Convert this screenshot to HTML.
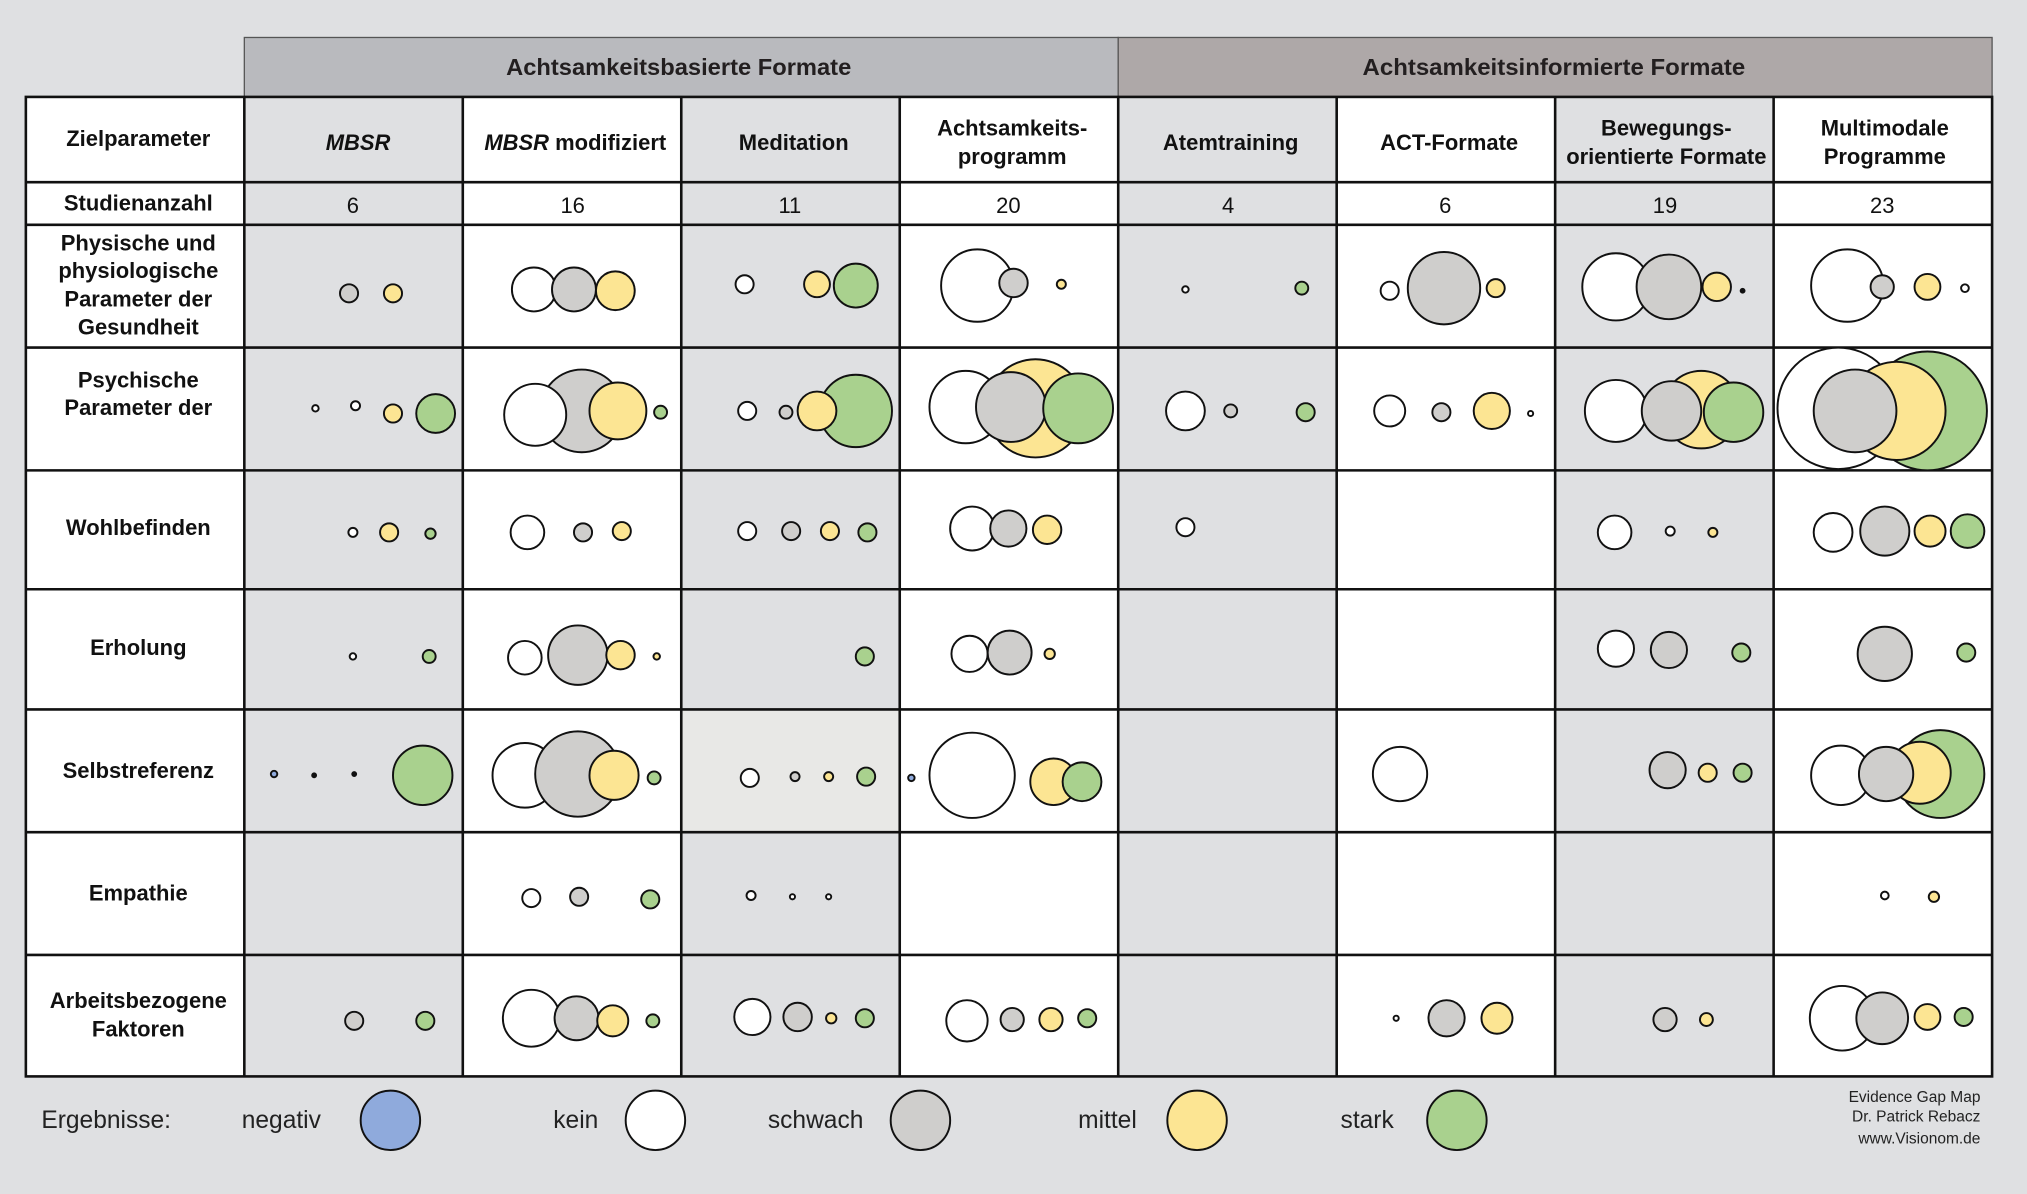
<!DOCTYPE html>
<html><head><meta charset="utf-8"><style>html,body{margin:0;padding:0;background:#dfe0e2;}svg{display:block}</style></head>
<body>
<svg width="2027" height="1194" viewBox="0 0 1568 924" preserveAspectRatio="none" xmlns="http://www.w3.org/2000/svg" font-family="'Liberation Sans Narrow','Liberation Sans',sans-serif">
<rect width="1568" height="924" fill="#dfe0e2"/>
<rect x="189" y="29" width="676" height="46" fill="#b9babe" stroke="#555" stroke-width="1"/>
<rect x="865" y="29" width="676" height="46" fill="#aea8a8" stroke="#555" stroke-width="1"/>
<g font-weight="bold" font-size="18" fill="#231f20" text-anchor="middle">
<text x="525" y="58" textLength="267" lengthAdjust="spacingAndGlyphs">Achtsamkeitsbasierte Formate</text>
<text x="1202" y="58" textLength="296" lengthAdjust="spacingAndGlyphs">Achtsamkeitsinformierte Formate</text>
</g>
<rect x="20" y="75" width="1521" height="758" fill="#fff"/>
<g fill="#dfe0e2">
<rect x="189" y="75" width="169" height="758"/>
<rect x="527" y="75" width="169" height="758"/>
<rect x="865" y="75" width="169" height="758"/>
<rect x="1203" y="75" width="169" height="758"/>
</g>
<rect x="527" y="549" width="169" height="95" fill="#e8e8e6"/>
<g stroke="#111" stroke-width="2" fill="none">
<rect x="20" y="75" width="1521" height="758"/>
<path d="M20 141H1541M20 174H1541M20 269H1541M20 364H1541M20 456H1541M20 549H1541M20 644H1541M20 739H1541"/>
<path d="M189 75V833M358 75V833M527 75V833M696 75V833M865 75V833M1034 75V833M1203 75V833M1372 75V833"/>
</g>
<g font-weight="bold" font-size="17" fill="#111" text-anchor="middle">
<text x="107" y="113">Zielparameter</text>
<text x="107" y="163">Studienanzahl</text>
<text x="107" y="194">Physische und</text>
<text x="107" y="215">physiologische</text>
<text x="107" y="237">Parameter der</text>
<text x="107" y="259">Gesundheit</text>
<text x="107" y="300">Psychische</text>
<text x="107" y="321">Parameter der</text>
<text x="107" y="414">Wohlbefinden</text>
<text x="107" y="507">Erholung</text>
<text x="107" y="602">Selbstreferenz</text>
<text x="107" y="697">Empathie</text>
<text x="107" y="780">Arbeitsbezogene</text>
<text x="107" y="802">Faktoren</text>
<text x="277" y="116" font-style="italic">MBSR</text>
<text x="445" y="116"><tspan font-style="italic">MBSR</tspan> modifiziert</text>
<text x="614" y="116">Meditation</text>
<text x="783" y="105">Achtsamkeits-</text>
<text x="783" y="127">programm</text>
<text x="952" y="116">Atemtraining</text>
<text x="1121" y="116">ACT-Formate</text>
<text x="1289" y="105">Bewegungs-</text>
<text x="1289" y="127">orientierte Formate</text>
<text x="1458" y="105">Multimodale</text>
<text x="1458" y="127">Programme</text>
</g>
<g font-size="17" fill="#111" text-anchor="middle">
<text x="273" y="165">6</text><text x="443" y="165">16</text><text x="611" y="165">11</text><text x="780" y="165">20</text>
<text x="950" y="165">4</text><text x="1118" y="165">6</text><text x="1288" y="165">19</text><text x="1456" y="165">23</text>
</g>
<g stroke="#111" stroke-width="1.5">
<circle cx="270" cy="227" r="7" fill="#cfcecc"/><circle cx="304" cy="227" r="7" fill="#fce593"/>
<circle cx="413" cy="224" r="17" fill="#fff"/><circle cx="444" cy="224" r="17" fill="#cfcecc"/><circle cx="476" cy="225" r="15" fill="#fce593"/>
<circle cx="576" cy="220" r="7" fill="#fff"/><circle cx="632" cy="220" r="10" fill="#fce593"/><circle cx="662" cy="221" r="17" fill="#a9d18e"/>
<circle cx="756" cy="221" r="28" fill="#fff"/><circle cx="784" cy="219" r="11" fill="#cfcecc"/><circle cx="821" cy="220" r="3.5" fill="#fce593"/>
<circle cx="917" cy="224" r="2.5" fill="#fff"/><circle cx="1007" cy="223" r="5" fill="#a9d18e"/>
<circle cx="1075" cy="225" r="7" fill="#fff"/><circle cx="1117" cy="223" r="28" fill="#cfcecc"/><circle cx="1157" cy="223" r="7" fill="#fce593"/>
<circle cx="1250" cy="222" r="26" fill="#fff"/><circle cx="1291" cy="222" r="25" fill="#cfcecc"/><circle cx="1328" cy="222" r="11" fill="#fce593"/><circle cx="1348" cy="225" r="1.5" fill="#111"/>
<circle cx="1429" cy="221" r="28" fill="#fff"/><circle cx="1456" cy="222" r="9" fill="#cfcecc"/><circle cx="1491" cy="222" r="10" fill="#fce593"/><circle cx="1520" cy="223" r="3" fill="#fff"/>
<circle cx="244" cy="316" r="2.5" fill="#fff"/><circle cx="275" cy="314" r="3.5" fill="#fff"/><circle cx="304" cy="320" r="7" fill="#fce593"/><circle cx="337" cy="320" r="15" fill="#a9d18e"/>
<circle cx="450" cy="318" r="32" fill="#cfcecc"/><circle cx="414" cy="321" r="24" fill="#fff"/><circle cx="478" cy="318" r="22" fill="#fce593"/><circle cx="511" cy="319" r="5" fill="#a9d18e"/>
<circle cx="578" cy="318" r="7" fill="#fff"/><circle cx="608" cy="319" r="5" fill="#cfcecc"/><circle cx="662" cy="318" r="28" fill="#a9d18e"/><circle cx="632" cy="318" r="15" fill="#fce593"/>
<circle cx="801" cy="316" r="38" fill="#fce593"/><circle cx="747" cy="315" r="28" fill="#fff"/><circle cx="782" cy="315" r="27" fill="#cfcecc"/><circle cx="834" cy="316" r="27" fill="#a9d18e"/>
<circle cx="917" cy="318" r="15" fill="#fff"/><circle cx="952" cy="318" r="5" fill="#cfcecc"/><circle cx="1010" cy="319" r="7" fill="#a9d18e"/>
<circle cx="1075" cy="318" r="12" fill="#fff"/><circle cx="1115" cy="319" r="7" fill="#cfcecc"/><circle cx="1154" cy="318" r="14" fill="#fce593"/><circle cx="1184" cy="320" r="2" fill="#fff"/>
<circle cx="1316" cy="317" r="30" fill="#fce593"/><circle cx="1250" cy="318" r="24" fill="#fff"/><circle cx="1293" cy="318" r="23" fill="#cfcecc"/><circle cx="1341" cy="319" r="23" fill="#a9d18e"/>
<circle cx="1491" cy="318" r="46" fill="#a9d18e"/><circle cx="1422" cy="316" r="47" fill="#fff"/><circle cx="1467" cy="318" r="38" fill="#fce593"/><circle cx="1435" cy="318" r="32" fill="#cfcecc"/>
<circle cx="273" cy="412" r="3.5" fill="#fff"/><circle cx="301" cy="412" r="7" fill="#fce593"/><circle cx="333" cy="413" r="4" fill="#a9d18e"/>
<circle cx="408" cy="412" r="13" fill="#fff"/><circle cx="451" cy="412" r="7" fill="#cfcecc"/><circle cx="481" cy="411" r="7" fill="#fce593"/>
<circle cx="578" cy="411" r="7" fill="#fff"/><circle cx="612" cy="411" r="7" fill="#cfcecc"/><circle cx="642" cy="411" r="7" fill="#fce593"/><circle cx="671" cy="412" r="7" fill="#a9d18e"/>
<circle cx="752" cy="409" r="17" fill="#fff"/><circle cx="780" cy="409" r="14" fill="#cfcecc"/><circle cx="810" cy="410" r="11" fill="#fce593"/>
<circle cx="917" cy="408" r="7" fill="#fff"/>
<circle cx="1249" cy="412" r="13" fill="#fff"/><circle cx="1292" cy="411" r="3.5" fill="#fff"/><circle cx="1325" cy="412" r="3.5" fill="#fce593"/>
<circle cx="1418" cy="412" r="15" fill="#fff"/><circle cx="1458" cy="411" r="19" fill="#cfcecc"/><circle cx="1493" cy="411" r="12" fill="#fce593"/><circle cx="1522" cy="411" r="13" fill="#a9d18e"/>
<circle cx="273" cy="508" r="2.5" fill="#fff"/><circle cx="332" cy="508" r="5" fill="#a9d18e"/>
<circle cx="406" cy="509" r="13" fill="#fff"/><circle cx="447" cy="507" r="23" fill="#cfcecc"/><circle cx="480" cy="507" r="11" fill="#fce593"/><circle cx="508" cy="508" r="2.5" fill="#fce593"/>
<circle cx="669" cy="508" r="7" fill="#a9d18e"/>
<circle cx="750" cy="506" r="14" fill="#fff"/><circle cx="781" cy="505" r="17" fill="#cfcecc"/><circle cx="812" cy="506" r="4" fill="#fce593"/>
<circle cx="1250" cy="502" r="14" fill="#fff"/><circle cx="1291" cy="503" r="14" fill="#cfcecc"/><circle cx="1347" cy="505" r="7" fill="#a9d18e"/>
<circle cx="1458" cy="506" r="21" fill="#cfcecc"/><circle cx="1521" cy="505" r="7" fill="#a9d18e"/>
<circle cx="212" cy="599" r="2.5" fill="#8faadc"/><circle cx="243" cy="600" r="1.5" fill="#111"/><circle cx="274" cy="599" r="1.5" fill="#111"/><circle cx="327" cy="600" r="23" fill="#a9d18e"/>
<circle cx="406" cy="600" r="25" fill="#fff"/><circle cx="447" cy="599" r="33" fill="#cfcecc"/><circle cx="475" cy="600" r="19" fill="#fce593"/><circle cx="506" cy="602" r="5" fill="#a9d18e"/>
<circle cx="580" cy="602" r="7" fill="#fff"/><circle cx="615" cy="601" r="3.5" fill="#cfcecc"/><circle cx="641" cy="601" r="3.5" fill="#fce593"/><circle cx="670" cy="601" r="7" fill="#a9d18e"/>
<circle cx="705" cy="602" r="2.5" fill="#8faadc"/><circle cx="752" cy="600" r="33" fill="#fff"/><circle cx="815" cy="605" r="18" fill="#fce593"/><circle cx="837" cy="605" r="15" fill="#a9d18e"/>
<circle cx="1083" cy="599" r="21" fill="#fff"/>
<circle cx="1290" cy="596" r="14" fill="#cfcecc"/><circle cx="1321" cy="598" r="7" fill="#fce593"/><circle cx="1348" cy="598" r="7" fill="#a9d18e"/>
<circle cx="1501" cy="599" r="34" fill="#a9d18e"/><circle cx="1485" cy="598" r="24" fill="#fce593"/><circle cx="1424" cy="600" r="23" fill="#fff"/><circle cx="1459" cy="599" r="21" fill="#cfcecc"/>
<circle cx="411" cy="695" r="7" fill="#fff"/><circle cx="448" cy="694" r="7" fill="#cfcecc"/><circle cx="503" cy="696" r="7" fill="#a9d18e"/>
<circle cx="581" cy="693" r="3.5" fill="#fff"/><circle cx="613" cy="694" r="2" fill="#fff"/><circle cx="641" cy="694" r="2" fill="#fff"/>
<circle cx="1458" cy="693" r="3" fill="#fff"/><circle cx="1496" cy="694" r="4" fill="#fce593"/>
<circle cx="274" cy="790" r="7" fill="#cfcecc"/><circle cx="329" cy="790" r="7" fill="#a9d18e"/>
<circle cx="411" cy="788" r="22" fill="#fff"/><circle cx="446" cy="788" r="17" fill="#cfcecc"/><circle cx="474" cy="790" r="12" fill="#fce593"/><circle cx="505" cy="790" r="5" fill="#a9d18e"/>
<circle cx="582" cy="787" r="14" fill="#fff"/><circle cx="617" cy="787" r="11" fill="#cfcecc"/><circle cx="643" cy="788" r="4" fill="#fce593"/><circle cx="669" cy="788" r="7" fill="#a9d18e"/>
<circle cx="748" cy="790" r="16" fill="#fff"/><circle cx="783" cy="789" r="9" fill="#cfcecc"/><circle cx="813" cy="789" r="9" fill="#fce593"/><circle cx="841" cy="788" r="7" fill="#a9d18e"/>
<circle cx="1080" cy="788" r="2" fill="#fff"/><circle cx="1119" cy="788" r="14" fill="#cfcecc"/><circle cx="1158" cy="788" r="12" fill="#fce593"/>
<circle cx="1288" cy="789" r="9" fill="#cfcecc"/><circle cx="1320" cy="789" r="5" fill="#fce593"/>
<circle cx="1425" cy="788" r="25" fill="#fff"/><circle cx="1456" cy="788" r="20" fill="#cfcecc"/><circle cx="1491" cy="787" r="10" fill="#fce593"/><circle cx="1519" cy="787" r="7" fill="#a9d18e"/>
<circle cx="302" cy="867" r="23" fill="#8faadc"/>
<circle cx="507" cy="867" r="23" fill="#fff"/>
<circle cx="712" cy="867" r="23" fill="#cfcecc"/>
<circle cx="926" cy="867" r="23" fill="#fce593"/>
<circle cx="1127" cy="867" r="23" fill="#a9d18e"/>
</g>
<g font-size="19" fill="#222">
<text x="32" y="873">Ergebnisse:</text>
<text x="187" y="873">negativ</text>
<text x="428" y="873">kein</text>
<text x="594" y="873">schwach</text>
<text x="834" y="873">mittel</text>
<text x="1037" y="873">stark</text>
</g>
<g font-size="12" fill="#222" text-anchor="end">
<text x="1532" y="853">Evidence Gap  Map</text>
<text x="1532" y="868">Dr. Patrick Rebacz</text>
<text x="1532" y="885">www.Visionom.de</text>
</g>
</svg>
</body></html>
